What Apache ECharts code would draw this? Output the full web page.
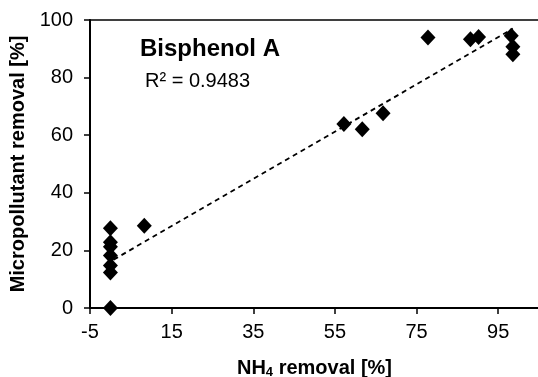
<!DOCTYPE html>
<html>
<head>
<meta charset="utf-8">
<script src="https://cdn.jsdelivr.net/npm/echarts@6/dist/echarts.min.js"></script>
<style>
html,body{margin:0;padding:0;background:#fff;}
#chart{width:538px;height:377px;}
</style>
</head>
<body>
<div id="chart"></div>
<script>
// NH4 removal [%] (x) and micropollutant removal [%] (y) for Bisphenol A
const nh4Removal = [0, 0, 0, 0, 0, 0, 0, 8.3, 57.2, 61.7, 66.8, 77.8, 88.2, 90.2, 98.2, 98.6, 98.6];
const bpaRemoval = [27.7, 22.8, 21.3, 18.2, 14.8, 12.3, 0, 28.6, 63.9, 62.1, 67.6, 93.9, 93.3, 94.1, 94.5, 90.7, 88.1];
// linear trendline end points
const trendX = [0.8, 98.6];
const trendY = [16.8, 97.0];
const xTicks = [-5, 15, 35, 55, 75, 95];
const yTicks = [0, 20, 40, 60, 80, 100];
const chartTitle = 'Bisphenol A';
const r2Label = 'R² = 0.9483';

const FONT = '"Liberation Sans", Arial, sans-serif';
const chart = echarts.init(document.getElementById('chart'));
chart.setOption({
  animation: false,
  backgroundColor: '#fff',
  grid: {left: 90, top: 20, right: -1, bottom: 69, show: true, borderColor: '#000', borderWidth: 1.5,
         containLabel: false, outerBoundsMode: 'none'},
  xAxis: {
    type: 'value', min: -5, max: 105,
    axisLine: {show: true, onZero: false, lineStyle: {color: '#000', width: 2}},
    axisTick: {show: true, inside: false, length: 6, lineStyle: {color: '#000', width: 1.5}, customValues: xTicks},
    axisLabel: {color: '#000', fontSize: 20, fontFamily: FONT, margin: 14, customValues: xTicks},
    splitLine: {show: false},
    name: '{a|NH}{s|4}{a| removal [%]}',
    nameLocation: 'middle', nameGap: 49,
    nameTextStyle: {
      rich: {
        a: {fontSize: 20, fontWeight: 'bold', fontFamily: FONT, color: '#000', lineHeight: 22},
        s: {fontSize: 13, fontWeight: 'bold', fontFamily: FONT, color: '#000', lineHeight: 10, verticalAlign: 'bottom'}
      }
    }
  },
  yAxis: {
    type: 'value', min: 0, max: 100, interval: 20,
    axisLine: {show: true, onZero: false, lineStyle: {color: '#000', width: 2}},
    axisTick: {show: true, inside: false, length: 6, lineStyle: {color: '#000', width: 1.5}, customValues: yTicks},
    axisLabel: {color: '#000', fontSize: 20, fontFamily: FONT, margin: 17, customValues: yTicks},
    splitLine: {show: false},
    name: 'Micropollutant removal [%]',
    nameLocation: 'middle', nameGap: 60,
    nameTextStyle: {fontSize: 20, fontWeight: 'bold', fontFamily: FONT, color: '#000'}
  },
  series: [
    {
      type: 'line',
      data: trendX.map((x, i) => [x, trendY[i]]),
      showSymbol: false, symbol: 'none',
      lineStyle: {color: '#000', width: 1.8, type: [5, 4]},
      z: 2
    },
    {
      type: 'scatter',
      data: nh4Removal.map((x, i) => [x, bpaRemoval[i]]),
      symbol: 'diamond', symbolSize: [15, 16],
      itemStyle: {color: '#000', opacity: 1},
      z: 3
    }
  ],
  graphic: [
    {type: 'text', left: 140, top: 37, style: {text: chartTitle, fontSize: 24, fontWeight: 'bold', fontFamily: FONT, fill: '#000'}},
    {type: 'text', left: 145, top: 71, style: {text: r2Label, fontSize: 20, fontFamily: FONT, fill: '#000'}}
  ]
});
</script>
</body>
</html>
